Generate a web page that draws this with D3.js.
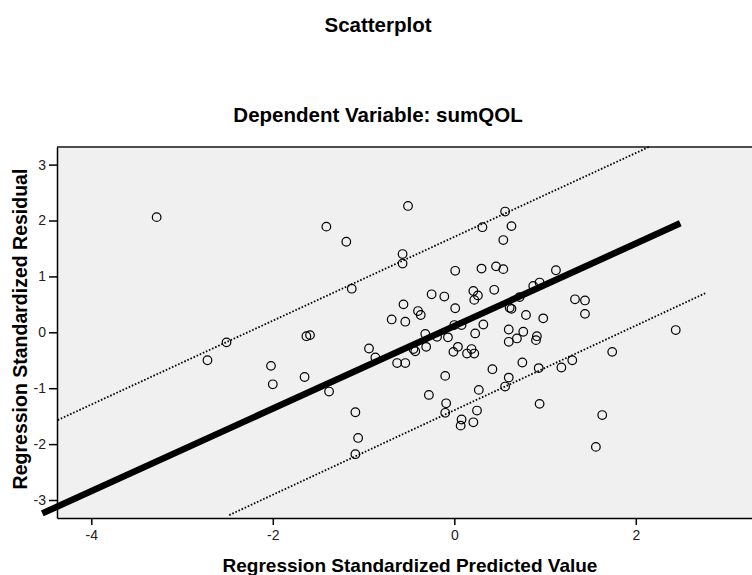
<!DOCTYPE html>
<html lang="en">
<head>
    <meta charset="UTF-8">
    <title>Scatterplot</title>
    <style>
        body{
            margin: 0;
            background: #fff;
        }
        svg{
            display: block;
            font-family: Arial, "Liberation Sans", sans-serif;
        }
    </style>
</head>
<body>
<svg width="752" height="575"></svg>
<script src="https://d3js.org/d3.v7.min.js" type="text/javascript"></script>
<script>
    // predicted value (x) and standardized residual (y), one entry per case
    var predicted = [-3.28, -2.72, -2.51, -2.02, -2.00, -1.65, -1.63, -1.59, -1.41, -1.19,
        -1.13, -1.38, -1.09, -1.06, -1.09, -0.94, -0.87, -0.69, -0.63, -0.54,
        -0.54, -0.56, -0.57, -0.57, -0.51, -0.45, -0.43, -0.40, -0.37, -0.32,
        -0.31, -0.28, -0.25, -0.19, -0.11, -0.10, -0.09, -0.10, -0.07, -0.01,
        0.00, 0.01, 0.01, 0.04, 0.08, 0.08, 0.07, 0.14, 0.19, 0.22,
        0.21, 0.26, 0.22, 0.21, 0.25, 0.27, 0.23, 0.30, 0.31, 0.32,
        0.42, 0.44, 0.46, 0.54, 0.54, 0.56, 0.63, 0.56, 0.60, 0.60,
        0.60, 0.61, 0.63, 0.69, 0.72, 0.76, 0.75, 0.79, 0.87, 0.94,
        0.91, 0.90, 0.93, 0.94, 0.98, 1.12, 1.18, 1.30, 1.33, 1.44,
        1.44, 1.56, 1.63, 1.74, 2.44];
    var residual = [2.06, -0.50, -0.18, -0.60, -0.93, -0.80, -0.07, -0.05, 1.89, 1.62,
        0.78, -1.06, -1.43, -1.89, -2.18, -0.29, -0.45, 0.23, -0.55, -0.55,
        0.19, 0.50, 1.40, 1.23, 2.26, -0.30, -0.34, 0.38, 0.31, -0.03,
        -0.26, -1.12, 0.68, -0.08, 0.64, -0.78, -1.27, -1.44, -0.09, -0.35,
        0.13, 0.43, 1.10, -0.26, 0.13, -1.56, -1.67, -0.38, -0.30, -0.38,
        0.74, 0.66, 0.58, -1.61, -1.40, -1.03, -0.02, 1.14, 1.88, 0.14,
        -0.66, 0.76, 1.18, 1.13, 1.65, 2.16, 1.90, -0.97, -0.81, 0.05,
        -0.17, 0.44, 0.42, -0.11, 0.63, 0.01, -0.54, 0.31, 0.83, 0.89,
        -0.07, -0.14, -0.64, -1.28, 0.25, 1.11, -0.63, -0.50, 0.59, 0.57,
        0.33, -2.05, -1.48, -0.35, 0.04];

    var xTicks = [-4, -2, 0, 2];
    var yTicks = [-3, -2, -1, 0, 1, 2, 3];

    // reference lines as [x, y] end points
    var fitLine = [[-4.54, -3.24], [2.49, 1.95]];
    var upperLine = [[-4.37, -1.57], [2.15, 3.32]];
    var lowerLine = [[-2.48, -3.27], [2.78, 0.71]];

    var svg = d3.select("svg");

    // plot area (right edge runs past the picture)
    var pLeft = 57, pTop = 147, pBottom = 518, pRight = 790;

    var xscale = d3.scaleLinear().domain([-4.378, (pRight - 454.3) / 90.75]).range([pLeft, pRight]);
    var yscale = d3.scaleLinear().domain([-3.322, 3.315]).range([pBottom, pTop]);

    // titles
    svg.append("text").attr("x", 378).attr("y", 32).attr("text-anchor", "middle")
        .attr("font-size", 20.5).attr("font-weight", "bold").text("Scatterplot");
    svg.append("text").attr("x", 378).attr("y", 122).attr("text-anchor", "middle")
        .attr("font-size", 20.5).attr("font-weight", "bold").text("Dependent Variable: sumQOL");

    // background
    svg.append("rect").attr("x", pLeft).attr("y", pTop).attr("width", pRight - pLeft).attr("height", pBottom - pTop)
        .attr("fill", "#f0f0f0");
    svg.append("line").attr("x1", pLeft).attr("x2", pRight).attr("y1", pTop).attr("y2", pTop)
        .attr("stroke", "#4d4d4d").attr("stroke-width", 2);

    // axes
    var xAxis = d3.axisBottom(xscale).tickValues(xTicks).tickSize(7).tickSizeOuter(0).tickFormat(d3.format("d"));
    var gx = svg.append("g").attr("transform", "translate(0," + pBottom + ")").call(xAxis);
    var yAxis = d3.axisLeft(yscale).tickValues(yTicks).tickSize(8).tickSizeOuter(0).tickFormat(d3.format("d"));
    var gy = svg.append("g").attr("transform", "translate(" + pLeft + ",0)").call(yAxis);

    [gx, gy].forEach(function (g) {
        g.select(".domain").attr("stroke", "#000").attr("stroke-width", 1.5);
        g.selectAll(".tick line").attr("stroke", "#000").attr("stroke-width", 1.5);
        g.selectAll(".tick text").attr("font-size", 14).attr("fill", "#222")
            .attr("font-family", "Arial, 'Liberation Sans', sans-serif").text(function (d) {
                return d < 0 ? "-" + Math.abs(d) : d;
            });
    });
    gx.selectAll(".tick text").attr("dy", "0.85em");
    gy.selectAll(".tick text").attr("dx", "0em");

    // axis titles
    svg.append("text").attr("x", 410).attr("y", 572).attr("text-anchor", "middle")
        .attr("font-size", 19).attr("font-weight", "bold").text("Regression Standardized Predicted Value");
    svg.append("text").attr("transform", "translate(27,329) rotate(-90)").attr("text-anchor", "middle")
        .attr("font-size", 19.5).attr("font-weight", "bold").text("Regression Standardized Residual");

    var line = d3.line().x(function (d) { return xscale(d[0]); }).y(function (d) { return yscale(d[1]); });

    // points
    var pts = predicted.map(function (x, i) { return [x, residual[i]]; });
    svg.append("g").selectAll("circle").data(pts).enter().append("circle")
        .attr("cx", function (d) { return xscale(d[0]); })
        .attr("cy", function (d) { return yscale(d[1]); })
        .attr("r", 4.3).attr("fill", "none").attr("stroke", "#000").attr("stroke-width", 1.2);

    // confidence lines
    [upperLine, lowerLine].forEach(function (l) {
        svg.append("path").attr("d", line(l)).attr("fill", "none").attr("stroke", "#000")
            .attr("stroke-width", 1.8).attr("stroke-dasharray", "1.6,1.8");
    });

    // fit line
    svg.append("path").attr("d", line(fitLine)).attr("fill", "none").attr("stroke", "#000").attr("stroke-width", 6.5);
</script>
</body>
</html>
